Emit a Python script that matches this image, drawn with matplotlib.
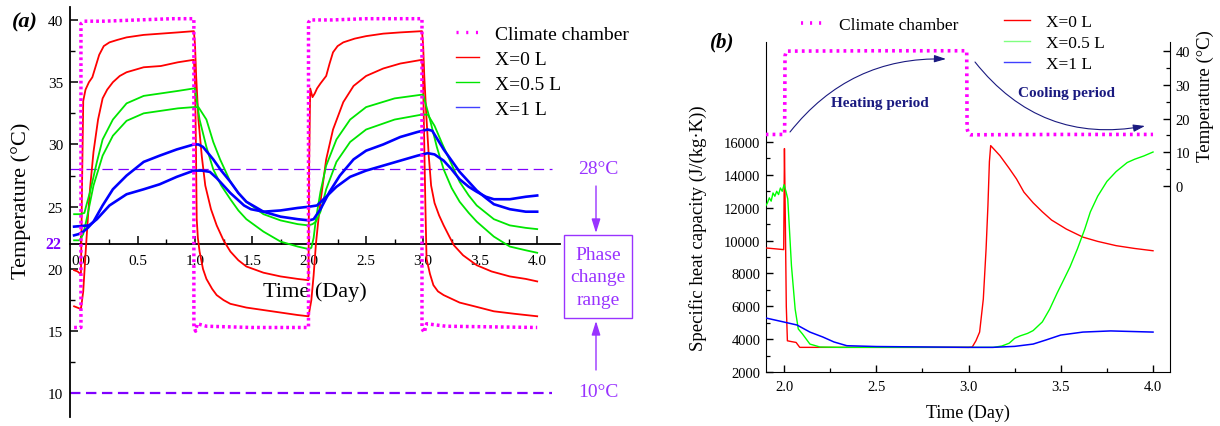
import matplotlib
matplotlib.use('Agg')
import matplotlib.pyplot as plt
import matplotlib.transforms as mtransforms
from matplotlib.patches import Rectangle, FancyArrowPatch
from matplotlib.lines import Line2D

plt.rcParams['font.family'] = ['Liberation Serif', 'DejaVu Serif']
plt.rcParams['lines.scale_dashes'] = False

# ---------------- data: panel (a) temperature (°C) vs time (day) ----------------
chamber_a_t = [-0.06, 0.0, 0.0, 0.03, 0.2, 0.5, 0.8, 0.99, 0.99, 1.005, 1.02, 1.1, 1.5, 1.995,
               1.995, 2.01, 2.2, 2.5, 2.99, 2.99, 3.01, 3.03, 3.2, 4.0]
chamber_a_T = [15.3, 15.3, 39.7, 39.9, 39.9, 40.0, 40.1, 40.1, 15.4, 15.0, 15.6, 15.4, 15.3, 15.3,
               39.8, 40.0, 40.0, 40.1, 40.1, 15.2, 14.9, 15.6, 15.4, 15.3]

red1_t = [-0.06, -0.03, -0.005, 0.0, 0.01, 0.02, 0.04, 0.07, 0.1, 0.13, 0.16, 0.2, 0.25, 0.32, 0.4,
          0.55, 0.7, 0.85, 0.99, 1.0, 1.01, 1.03, 1.06, 1.09, 1.14, 1.19, 1.25, 1.31, 1.38, 1.45,
          1.6, 1.75, 1.9, 1.995, 2.0, 2.01, 2.03, 2.05, 2.07, 2.1, 2.15, 2.18, 2.21, 2.25, 2.3,
          2.4, 2.5, 2.65, 2.8, 2.99, 3.0, 3.01, 3.03, 3.05, 3.07, 3.1, 3.14, 3.18, 3.23, 3.27,
          3.35, 3.47, 3.6, 3.76, 3.9, 4.0]
red1_T = [19.9, 19.8, 19.6, 19.7, 27.0, 33.5, 34.4, 35.0, 35.4, 36.3, 37.2, 37.9, 38.2, 38.4, 38.6,
          38.8, 38.9, 39.0, 39.1, 38.0, 35.5, 32.0, 29.0, 26.7, 24.8, 23.5, 22.3, 21.4, 20.7, 20.2,
          19.7, 19.4, 19.2, 19.1, 28.0, 34.5, 33.8, 34.1, 34.5, 34.9, 35.5, 36.5, 37.4, 37.9, 38.2,
          38.5, 38.7, 38.9, 39.0, 39.1, 38.0, 35.5, 32.0, 29.0, 26.7, 25.3, 24.3, 23.5, 22.6, 21.9,
          21.1, 20.3, 19.8, 19.4, 19.2, 19.0]

red2_t = [-0.06, -0.005, 0.0, 0.02, 0.04, 0.06, 0.08, 0.11, 0.15, 0.19, 0.23, 0.28, 0.34, 0.4,
          0.55, 0.7, 0.85, 0.99, 1.0, 1.008, 1.015, 1.025, 1.04, 1.07, 1.1, 1.15, 1.19, 1.25, 1.31,
          1.45, 1.6, 1.75, 1.9, 1.995, 2.02, 2.04, 2.06, 2.08, 2.1, 2.15, 2.21, 2.3, 2.39, 2.5,
          2.65, 2.8, 2.99, 3.0, 3.01, 3.02, 3.03, 3.06, 3.09, 3.13, 3.18, 3.25, 3.32, 3.45, 3.62,
          3.8, 4.0]
red2_T = [17.0, 16.8, 16.8, 18.2, 21.2, 24.0, 26.5, 29.4, 32.0, 33.7, 34.4, 35.0, 35.5, 35.8,
          36.2, 36.3, 36.6, 36.8, 35.0, 30.0, 24.0, 22.5, 21.4, 20.0, 19.2, 18.4, 17.9, 17.5, 17.2,
          16.9, 16.7, 16.5, 16.3, 16.2, 17.5, 19.5, 22.0, 23.8, 25.4, 28.8, 31.2, 33.4, 34.7, 35.5,
          36.1, 36.5, 36.8, 35.0, 30.0, 25.0, 20.8, 19.6, 18.7, 18.2, 17.9, 17.6, 17.3, 17.0, 16.6,
          16.4, 16.2]

greenA_t = [-0.06, -0.005, 0.03, 0.05, 0.08, 0.14, 0.19, 0.28, 0.4, 0.55, 0.7, 0.85, 0.99,
            1.0, 1.04, 1.1, 1.16, 1.23, 1.31, 1.38, 1.45, 1.6, 1.75, 1.9, 1.995,
            2.02, 2.04, 2.06, 2.1, 2.15, 2.24, 2.36, 2.5, 2.75, 2.99,
            3.0, 3.06, 3.12, 3.18, 3.25, 3.32, 3.4, 3.47, 3.62, 3.76, 3.9, 4.0]
greenA_T = [24.4, 24.4, 24.5, 25.2, 26.2, 28.6, 30.4, 32.0, 33.3, 33.9, 34.1, 34.3, 34.5,
            34.5, 32.0, 29.8, 28.0, 26.7, 25.6, 24.7, 24.0, 23.0, 22.2, 21.8, 21.6,
            21.7, 22.5, 24.0, 26.2, 28.3, 30.4, 32.0, 33.0, 33.7, 34.0,
            34.0, 32.0, 29.8, 28.0, 26.5, 25.4, 24.5, 23.8, 22.6, 21.8, 21.5, 21.3]

greenB_t = [-0.06, -0.01, 0.02, 0.05, 0.11, 0.19, 0.28, 0.4, 0.55, 0.7, 0.85, 0.99,
            1.03, 1.1, 1.16, 1.22, 1.31, 1.38, 1.45, 1.6, 1.75, 1.9, 1.995,
            2.03, 2.06, 2.1, 2.15, 2.24, 2.36, 2.5, 2.75, 2.99,
            3.04, 3.1, 3.17, 3.24, 3.32, 3.4, 3.47, 3.62, 3.76, 3.9, 4.0]
greenB_T = [22.3, 22.3, 22.8, 24.0, 26.7, 29.1, 30.7, 31.9, 32.5, 32.7, 32.9, 33.0,
            33.0, 32.0, 30.2, 28.8, 27.0, 26.1, 25.4, 24.4, 23.9, 23.6, 23.5,
            23.6, 23.8, 24.6, 26.4, 28.6, 30.2, 31.2, 32.0, 32.4,
            32.4, 31.5, 30.0, 28.6, 27.0, 25.9, 25.1, 24.0, 23.5, 23.3, 23.2]

blueA_t = [-0.06, -0.02, 0.02, 0.06, 0.11, 0.19, 0.28, 0.4, 0.55, 0.69, 0.84, 0.99, 1.03,
           1.07, 1.16, 1.23, 1.31, 1.38, 1.45, 1.6, 1.75, 1.9, 2.0,
           2.04, 2.1, 2.18, 2.27, 2.39, 2.5, 2.65, 2.8, 2.95, 3.04, 3.08,
           3.18, 3.25, 3.32, 3.4, 3.47, 3.55, 3.62, 3.76, 3.9, 4.0]
blueA_T = [22.7, 22.8, 23.0, 23.3, 23.8, 25.1, 26.4, 27.5, 28.6, 29.1, 29.6, 30.0, 30.0,
           29.8, 28.8, 27.9, 27.0, 26.1, 25.4, 24.6, 24.2, 24.0, 23.9,
           24.0, 24.8, 26.2, 27.5, 28.8, 29.5, 30.0, 30.6, 31.0, 31.2, 31.1,
           29.6, 28.7, 27.8, 27.0, 26.3, 25.7, 25.2, 24.8, 24.6, 24.6]

blueB_t = [-0.06, 0.07, 0.1, 0.14, 0.25, 0.4, 0.55, 0.69, 0.84, 0.99, 1.06,
           1.13, 1.19, 1.25, 1.31, 1.37, 1.43, 1.49, 1.6, 1.75, 1.9, 2.0,
           2.07, 2.15, 2.24, 2.36, 2.5, 2.65, 2.8, 2.95, 3.04, 3.1,
           3.18, 3.25, 3.32, 3.4, 3.47, 3.55, 3.62, 3.76, 3.9, 4.0]
blueB_T = [23.4, 23.5, 23.7, 24.0, 25.1, 26.0, 26.4, 26.8, 27.4, 27.9, 27.9,
           27.8, 27.3, 26.7, 26.1, 25.6, 25.1, 24.8, 24.6, 24.7, 24.9, 25.0,
           25.1, 25.8, 26.6, 27.4, 27.9, 28.3, 28.7, 29.1, 29.3, 29.2,
           28.7, 28.0, 27.2, 26.6, 26.2, 25.8, 25.6, 25.6, 25.8, 25.9]

phase_upper = 28   # °C
phase_lower = 10   # °C
axis_cross = 22    # °C

# ---------------- data: panel (b) specific heat (J/(kg·K)) ----------------
red_b_t = [1.9, 1.95, 1.998, 2.002, 2.006, 2.012, 2.018, 2.04, 2.065, 2.085, 2.5, 3.0, 3.02,
           3.04, 3.06, 3.08, 3.095, 3.105, 3.113, 3.12, 3.17, 3.22, 3.26, 3.3, 3.35, 3.4, 3.45,
           3.53, 3.62, 3.7, 3.8, 3.9, 4.0]
red_b_v = [9550, 9500, 9450, 15600, 12000, 6000, 3900, 3850, 3800, 3500, 3500, 3500, 3520,
           3900, 4430, 6440, 9490, 12120, 14800, 15780, 15170, 14400, 13750, 12950, 12300, 11750,
           11250, 10700, 10210, 9950, 9690, 9520, 9380]

green_b_t = [1.9, 1.91, 1.92, 1.93, 1.94, 1.95, 1.96, 1.97, 1.98, 1.99, 2.0, 2.01, 2.02, 2.04,
             2.06, 2.077, 2.1, 2.14, 2.195, 2.3, 3.0, 3.135, 3.18, 3.22, 3.25, 3.28, 3.32, 3.35,
             3.4, 3.44, 3.48, 3.51, 3.55, 3.59, 3.63, 3.66, 3.7, 3.75, 3.8, 3.86, 3.9, 3.95, 4.0]
green_b_v = [12100, 12300, 12600, 12400, 12900, 12700, 13000, 12800, 13200, 13000, 13400, 13000,
             12530, 8470, 5830, 4620, 4310, 3700, 3520, 3500, 3500, 3500, 3580, 3750, 4050, 4200,
             4350, 4520, 5050, 5830, 6800, 7480, 8400, 9490, 10700, 11740, 12700, 13600, 14200,
             14750, 14950, 15150, 15390]

blue_b_t = [1.9, 2.0, 2.07, 2.14, 2.21, 2.27, 2.34, 2.5, 3.0, 3.13, 3.25, 3.35, 3.42, 3.5, 3.62,
            3.77, 4.0]
blue_b_v = [5290, 5040, 4860, 4430, 4130, 3830, 3600, 3550, 3500, 3500, 3560, 3700, 3950, 4250,
            4430, 4500, 4430]

chamber_b_t = [1.9, 2.003, 2.005, 2.012, 2.05, 2.5, 2.99, 2.992, 3.0, 3.01, 3.5, 4.0]
chamber_b_T = [15.3, 15.3, 38.5, 40.0, 40.0, 40.1, 40.1, 17.0, 15.5, 15.2, 15.3, 15.3]

series_labels = ['Climate chamber', 'X=0 L', 'X=0.5 L', 'X=1 L']

# ---------------- styles ----------------
RED, GREEN, BLUE, MAG = '#FF0000', '#00E600', '#0000FF', '#FF00FF'
VIOLET = '#8000FF'
VTEXT = '#9933FF'
NAVY = '#1A1A80'
DOT = (0, (2.0, 2.2))

W, H = 1220, 427
fig = plt.figure(figsize=(W / 100, H / 100), dpi=100)


def fx(px):
    return px / W


def fy(py):
    return 1 - py / H


# ======================= panel (a) =======================
axA = fig.add_axes([fx(70), fy(418), fx(560) - fx(70), fy(8) - fy(418)])
axA.set_xlim(-0.096, 4.2)
axA.set_ylim(8.11, 41.04)
for s in ['top', 'right']:
    axA.spines[s].set_visible(False)
axA.spines['bottom'].set_position(('data', axis_cross))
axA.spines['bottom'].set_linewidth(1.3)
axA.spines['left'].set_linewidth(1.3)

axA.plot(red1_t, red1_T, color=RED, lw=1.3, zorder=3)
axA.plot(red2_t, red2_T, color=RED, lw=1.3, zorder=3)
axA.plot(greenA_t, greenA_T, color=GREEN, lw=1.3, zorder=3)
axA.plot(greenB_t, greenB_T, color=GREEN, lw=1.3, zorder=3)
axA.plot(blueA_t, blueA_T, color=BLUE, lw=1.9, zorder=3)
axA.plot(blueB_t, blueB_T, color=BLUE, lw=1.9, zorder=3)
axA.plot(chamber_a_t, chamber_a_T, color=MAG, lw=2.5, ls=DOT, zorder=4)

axA.hlines(phase_upper, -0.096, 4.13, colors=VIOLET, lw=0.9, linestyles=[(0, (7.5, 4.0))], zorder=2)
axA.hlines(phase_lower, -0.096, 4.13, colors=VIOLET, lw=1.6, linestyles=[(0, (7.5, 4.0))], zorder=2)

axA.set_xticks([0.0, 0.5, 1.0, 1.5, 2.0, 2.5, 3.0, 3.5, 4.0])
axA.set_xticks([0.25, 0.75, 1.25, 1.75, 2.25, 2.75, 3.25, 3.75], minor=True)
axA.set_xticklabels(['0.0', '0.5', '1.0', '1.5', '2.0', '2.5', '3.0', '3.5', '4.0'])
axA.set_yticks([10, 15, 20, 25, 30, 35, 40])
axA.set_yticks([12.5, 17.5, 27.5, 32.5, 37.5], minor=True)
axA.tick_params(axis='both', which='major', direction='in', length=6, width=1.1, labelsize=11)
axA.tick_params(axis='both', which='minor', direction='in', length=3.5, width=1.0)
axA.tick_params(axis='x', pad=7)
axA.tick_params(axis='y', pad=5)

blend = mtransforms.blended_transform_factory(axA.transAxes, axA.transData)
axA.text(-0.017, axis_cross, str(axis_cross), transform=blend, ha='right', va='center',
         fontsize=11.5, fontweight='bold', color=VIOLET)

axA.set_xlabel('Time (Day)', fontsize=16)
axA.xaxis.set_label_coords(0.5, 0.33)
axA.set_ylabel('Temperature (°C)', fontsize=16)
axA.yaxis.set_label_coords(-0.08, 0.53)

hA = [Line2D([], [], color=MAG, lw=2.4, ls=(0, (1.5, 5.5))),
      Line2D([], [], color=RED, lw=1.0),
      Line2D([], [], color=GREEN, lw=1.0),
      Line2D([], [], color='#4040FF', lw=1.0)]
axA.legend(hA, series_labels, loc='upper left', bbox_to_anchor=(fx(456), fy(26)),
           bbox_transform=fig.transFigure, frameon=False, fontsize=14, handlelength=1.2,
           handletextpad=0.8, labelspacing=0.38, borderpad=0, borderaxespad=0)

fig.text(fx(25), fy(22), '(a)', fontsize=16, fontweight='bold', fontstyle='italic',
         ha='center', va='center')

# phase change annotations
fig.text(fx(598), fy(170), '28°C', fontsize=14, color=VTEXT, ha='center', va='center')
fig.text(fx(598), fy(393), '10°C', fontsize=14, color=VTEXT, ha='center', va='center')
fig.add_artist(Rectangle((fx(564), fy(319)), fx(632) - fx(564), fy(236) - fy(319),
                         transform=fig.transFigure, fill=False, edgecolor=VTEXT, lw=1.0))
fig.text(fx(598), fy(278), 'Phase\nchange\nrange', fontsize=14, color=VTEXT,
         ha='center', va='center', linespacing=1.45)
fig.add_artist(FancyArrowPatch((fx(596), fy(187)), (fx(596), fy(234)), transform=fig.transFigure,
                               arrowstyle='-|>,head_length=0.7,head_width=0.22', mutation_scale=12,
                               color=VTEXT, lw=1.0, shrinkA=0, shrinkB=0))
fig.add_artist(FancyArrowPatch((fx(596), fy(371)), (fx(596), fy(322)), transform=fig.transFigure,
                               arrowstyle='-|>,head_length=0.7,head_width=0.22', mutation_scale=12,
                               color=VTEXT, lw=1.0, shrinkA=0, shrinkB=0))

# ======================= panel (b) =======================
axB = fig.add_axes([fx(766), fy(373), fx(1170) - fx(766), fy(43) - fy(373)])
axB.set_xlim(1.902, 4.092)
axB.set_ylim(2000, 22087)
axT = axB.twinx()
axT.set_ylim(-55.1, 42.7)
for a in (axB, axT):
    a.spines['top'].set_visible(False)
axB.spines['right'].set_visible(False)
axT.spines['left'].set_visible(False)
axT.spines['bottom'].set_visible(False)

axB.plot(red_b_t, red_b_v, color=RED, lw=1.0, zorder=3)
axB.plot(green_b_t, green_b_v, color='#00FF00', lw=1.0, zorder=3)
axB.plot(blue_b_t, blue_b_v, color=BLUE, lw=1.1, zorder=3)
axT.plot(chamber_b_t, chamber_b_T, color=MAG, lw=2.6, ls=(0, (2.0, 3.0)), zorder=4)

axB.set_xticks([2.0, 2.5, 3.0, 3.5, 4.0])
axB.set_xticks([2.25, 2.75, 3.25, 3.75], minor=True)
axB.set_xticklabels(['2.0', '2.5', '3.0', '3.5', '4.0'])
axB.set_yticks([2000, 4000, 6000, 8000, 10000, 12000, 14000, 16000])
axB.set_yticks([3000, 5000, 7000, 9000, 11000, 13000, 15000], minor=True)
axT.set_yticks([0, 10, 20, 30, 40])
axT.set_yticks([5, 15, 25, 35], minor=True)
for a in (axB, axT):
    a.tick_params(axis='both', which='major', direction='in', length=5, width=1.0, labelsize=10.5)
    a.tick_params(axis='both', which='minor', direction='in', length=3, width=0.9)
axB.tick_params(axis='x', pad=6)
axB.tick_params(axis='y', pad=4)
axT.tick_params(axis='y', pad=4)

axB.set_xlabel('Time (Day)', fontsize=13)
axB.xaxis.set_label_coords(0.5, -0.095)
axB.set_ylabel('Specific heat capacity (J/(kg·K))', fontsize=13.5)
axB.yaxis.set_label_coords(-0.145, 0.44)
axT.set_ylabel('Temperature (°C)', fontsize=13.5)
axT.yaxis.set_label_coords(1.066, 0.84)

fig.text(fx(722), fy(42), '(b)', fontsize=15, fontweight='bold', fontstyle='italic',
         ha='center', va='center')

axB.legend([Line2D([], [], color=MAG, lw=2.6, ls=(0, (1.5, 5.0)))], series_labels[:1],
           loc='upper left', bbox_to_anchor=(fx(801), fy(18)), bbox_transform=fig.transFigure,
           frameon=False, fontsize=12.5, handlelength=1.3, handletextpad=0.9,
           borderpad=0, borderaxespad=0)
axT.legend([Line2D([], [], color=RED, lw=1.0), Line2D([], [], color='#80FF80', lw=1.0),
            Line2D([], [], color='#4040FF', lw=1.0)], series_labels[1:],
           loc='upper left', bbox_to_anchor=(fx(1004), fy(15)), bbox_transform=fig.transFigure,
           frameon=False, fontsize=12.5, handlelength=1.5, handletextpad=0.9,
           labelspacing=0.28, borderpad=0, borderaxespad=0)

fig.add_artist(FancyArrowPatch((fx(790), fy(133)), (fx(946), fy(60)), transform=fig.transFigure,
                               connectionstyle='arc3,rad=-0.25',
                               arrowstyle='-|>,head_length=0.7,head_width=0.22', mutation_scale=10,
                               color=NAVY, lw=0.8, shrinkA=0, shrinkB=0))
fig.add_artist(FancyArrowPatch((fx(975), fy(63)), (fx(1145), fy(127)), transform=fig.transFigure,
                               connectionstyle='arc3,rad=0.3',
                               arrowstyle='-|>,head_length=0.7,head_width=0.22', mutation_scale=10,
                               color=NAVY, lw=0.8, shrinkA=0, shrinkB=0))
fig.text(fx(880), fy(103), 'Heating period', fontsize=11, fontweight='bold', color=NAVY,
         ha='center', va='center')
fig.text(fx(1067), fy(93), 'Cooling period', fontsize=11, fontweight='bold', color=NAVY,
         ha='center', va='center')

fig.savefig('out.png', dpi=100)
